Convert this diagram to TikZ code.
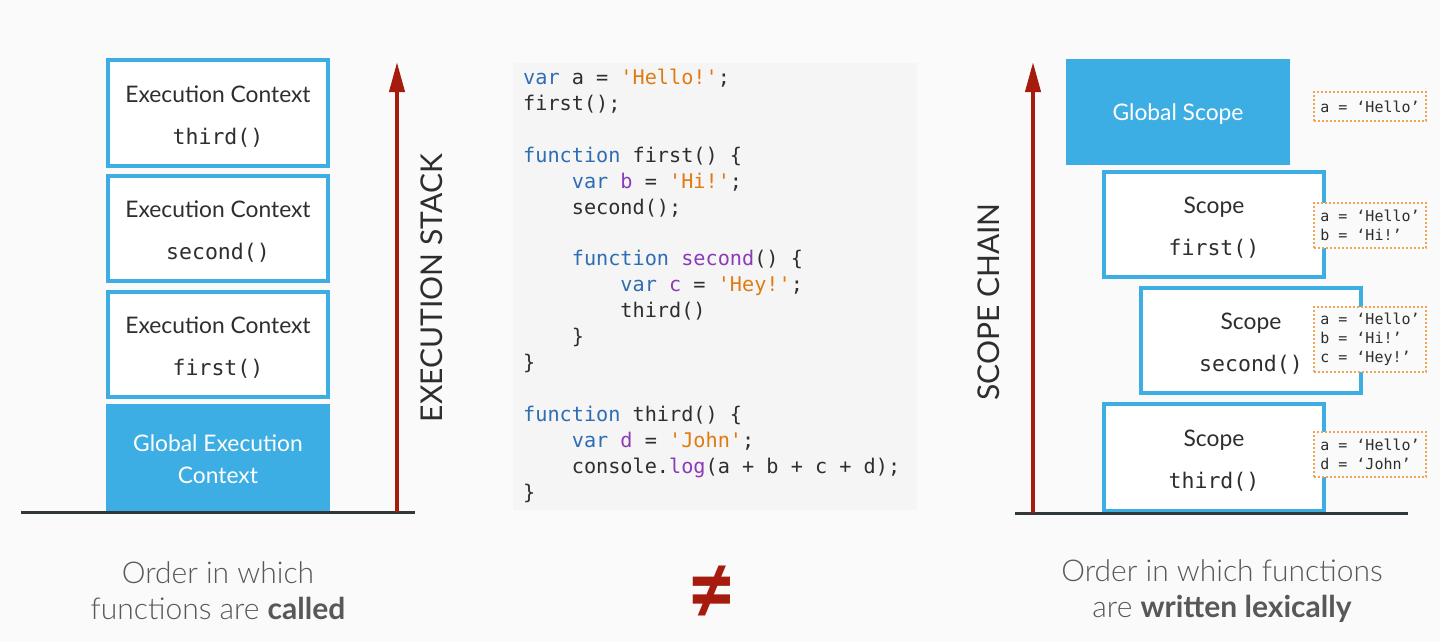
\documentclass[tikz,border=0pt]{standalone}
\usepackage{fontspec}
\usepackage{graphicx}
\setmainfont{Lato}
\setmonofont{DejaVu Sans Mono}
\newfontfamily\latolight{Lato Light}
\usetikzlibrary{arrows.meta}

\definecolor{bgcol}{HTML}{FAFAFA}
\definecolor{codebg}{HTML}{F5F5F5}
\definecolor{boxblue}{HTML}{3DAEE3}
\definecolor{stackred}{HTML}{A51C0E}
\definecolor{groundcol}{HTML}{30383C}
\definecolor{inkcol}{HTML}{2E2E2E}
\definecolor{kwcol}{HTML}{2E6DB4}
\definecolor{varcol}{HTML}{8B3AB8}
\definecolor{strcol}{HTML}{E07B12}
\definecolor{dotcol}{HTML}{F0A45A}

\newcommand\jkw[1]{\textcolor{kwcol}{#1}}
\newcommand\jvar[1]{\textcolor{varcol}{#1}}
\newcommand\jstr[1]{\textcolor{strcol}{#1}}
\newcommand\ind{\phantom{xxxx}}
\newcommand\fn[1]{\\[16pt]{\ttfamily\fontsize{21.5}{26}\selectfont #1}}

\tikzset{
  ctxbox/.style={draw=boxblue, line width=4pt, fill=white, minimum width=220pt,
    minimum height=105pt, align=center, text=inkcol, font=\fontsize{22.8}{26}\selectfont},
  globbox/.style={fill=boxblue, minimum width=224pt, align=center, text=white,
    font=\fontsize{22.8}{32}\selectfont},
  varbox/.style={draw=dotcol, line width=1.5pt, dash pattern=on 2pt off 2pt, fill=bgcol,
    minimum width=112pt, inner sep=4pt, align=left, text=inkcol,
    font=\ttfamily\fontsize{15}{19}\selectfont},
  stackarrow/.style={draw=stackred, line width=4pt, -{Triangle[length=30pt,width=15pt]}},
  ground/.style={draw=groundcol, line width=3pt},
  caption/.style={align=center, text=inkcol!80, font=\latolight\fontsize{30}{36}\selectfont}
}

\begin{document}
\begin{tikzpicture}[x=1pt,y=-1pt]
\fill[bgcol] (0,0) rectangle (1440,642);
\useasboundingbox (0,0) rectangle (1440,642);

% execution stack
\node[globbox, minimum height=108pt] (eglobal) at (218,458) {\rule{0pt}{20pt}Global Execution\\Context};
\node[ctxbox] (efirst) at (218,344) {\rule{0pt}{23pt}Execution Context\fn{first()}};
\node[ctxbox] (esecond) at (218,228.5) {\rule{0pt}{23pt}Execution Context\fn{second()}};
\node[ctxbox] (ethird) at (218,113) {\rule{0pt}{23pt}Execution Context\fn{third()}};

\coordinate (egl) at (21,512);
\coordinate (egr) at (415,512);
\coordinate (ebot) at (397,512);
\coordinate (etop) at (397,62);
\draw[ground] (egl) -- (egr);
\draw[stackarrow] (ebot) -- (etop);
\node[rotate=90, text=inkcol, font=\fontsize{30}{36}\selectfont] (estack) at (432,288) {EXECUTION STACK};

% code
\fill[codebg] (513,63) rectangle (917,510);
\node[anchor=north west, inner sep=0pt, align=left, text=inkcol,
  font=\ttfamily\fontsize{20.2}{25.9}\selectfont] (code) at (523,69) {%
\jkw{var} a = \jstr{'Hello!'};\\
first();\\
\mbox{}\\
\jkw{function} first() \{\\
\ind\jkw{var} \jvar{b} = \jstr{'Hi!'};\\
\ind second();\\
\mbox{}\\
\ind\jkw{function} \jvar{second}() \{\\
\ind\ind\jkw{var} \jvar{c} = \jstr{'Hey!'};\\
\ind\ind third()\\
\ind\}\\
\}\\
\mbox{}\\
\jkw{function} third() \{\\
\ind\jkw{var} \jvar{d} = \jstr{'John'};\\
\ind console.\jvar{log}(a + b + c + d);\\
\}};

% scope chain
\node[globbox, minimum height=106pt] (sglobal) at (1178,112) {\rule{0pt}{20pt}Global Scope};
\node[ctxbox] (sfirst) at (1214,224.5) {\rule{0pt}{23pt}Scope\fn{first()}};
\node[ctxbox] (ssecond) at (1251,340.5) {\rule{0pt}{23pt}Scope\fn{second()}};
\node[ctxbox, minimum height=107pt] (sthird) at (1214,457.5) {\rule{0pt}{23pt}Scope\fn{third()}};

\node[varbox, minimum height=29pt] (vglobal) at (1370,106.5) {a = ‘Hello’};
\node[varbox, minimum height=45pt] (vfirst) at (1370,225.5) {a = ‘Hello’\\b = ‘Hi!’};
\node[varbox, minimum height=65pt] (vsecond) at (1370,339.5) {a = ‘Hello’\\b = ‘Hi!’\\c = ‘Hey!’};
\node[varbox, minimum height=45pt] (vthird) at (1370,454.5) {a = ‘Hello’\\d = ‘John’};

\coordinate (sgl) at (1015,513);
\coordinate (sgr) at (1408,513);
\coordinate (sbot) at (1033,513);
\coordinate (stop) at (1033,62);
\draw[ground] (sgl) -- (sgr);
\draw[stackarrow] (sbot) -- (stop);
\node[rotate=90, text=inkcol, font=\fontsize{30}{36}\selectfont] (schain) at (989,302) {SCOPE CHAIN};

% captions
\node[caption] (called) at (218,591) {Order in which\\functions are {\normalfont\bfseries called}};
\node[caption] (lexical) at (1222,591) {Order in which functions\\are {\normalfont\bfseries written lexically}};
\node[text=stackred, inner sep=0pt, font=\bfseries\fontsize{84}{86}\selectfont] (neq) at (712,595) {\scalebox{1}[1.2]{≠}};
\end{tikzpicture}
\end{document}
